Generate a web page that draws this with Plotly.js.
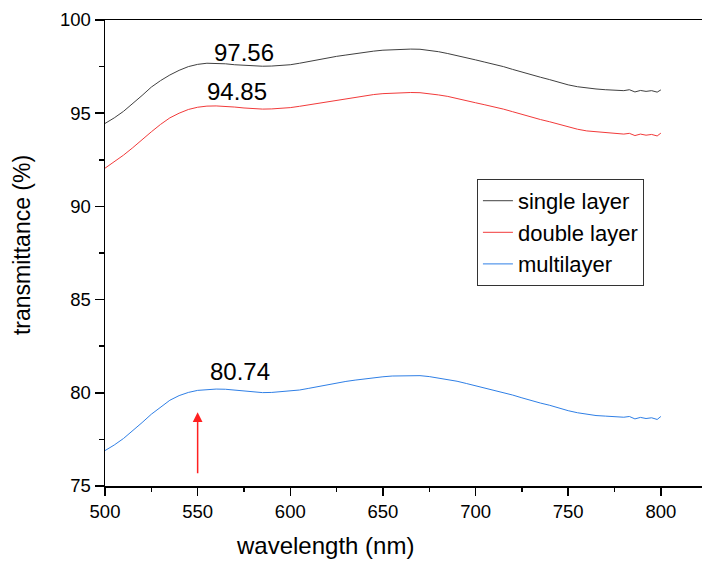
<!DOCTYPE html>
<html>
<head>
<meta charset="utf-8">
<script src="https://cdn.plot.ly/plotly-3.0.1.min.js"></script>
<style>html,body{margin:0;padding:0;background:#fff;}#chart{width:702px;height:561px;}</style>
</head>
<body>
<div id="chart"></div>
<script>
const wavelength = [500,505,510,515,520,525,530,535,540,545,550,555,560,565,570,575,580,585,590,595,600,605,610,615,620,625,630,635,640,645,650,655,660,665,670,675,680,685,690,695,700,705,710,715,720,725,730,735,740,745,750,755,760,765,770,775,780,783,786,789,792,795,798,800];

const singleLayer = [94.45,94.75,95.1,95.5,95.95,96.4,96.75,97.05,97.3,97.5,97.62,97.68,97.68,97.65,97.6,97.56,97.53,97.52,97.53,97.55,97.6,97.68,97.78,97.88,97.97,98.05,98.12,98.2,98.27,98.33,98.38,98.41,98.43,98.44,98.43,98.38,98.3,98.2,98.1,97.98,97.86,97.74,97.63,97.5,97.35,97.2,97.06,96.93,96.8,96.65,96.52,96.42,96.35,96.3,96.26,96.24,96.21,96.26,96.14,96.22,96.17,96.21,96.13,96.25];

const doubleLayer = [92.05,92.4,92.75,93.15,93.6,94.0,94.4,94.75,95.0,95.2,95.32,95.38,95.39,95.38,95.33,95.28,95.24,95.22,95.23,95.26,95.3,95.37,95.45,95.55,95.64,95.72,95.8,95.87,95.94,96.0,96.05,96.08,96.1,96.11,96.1,96.05,95.98,95.9,95.8,95.68,95.56,95.45,95.35,95.22,95.08,94.93,94.79,94.66,94.54,94.4,94.26,94.14,94.05,94.0,93.96,93.92,93.88,93.92,93.8,93.88,93.82,93.86,93.78,93.93];

const multiLayer = [76.9,77.2,77.55,77.95,78.4,78.85,79.25,79.6,79.85,80.02,80.13,80.18,80.2,80.19,80.14,80.08,80.03,80.01,80.02,80.05,80.09,80.15,80.24,80.34,80.44,80.53,80.61,80.68,80.75,80.81,80.86,80.9,80.92,80.93,80.92,80.87,80.8,80.71,80.62,80.5,80.38,80.27,80.16,80.03,79.88,79.73,79.58,79.45,79.33,79.18,79.04,78.93,78.84,78.78,78.75,78.72,78.69,78.73,78.6,78.68,78.62,78.66,78.57,78.73];

const seriesNames = ["single layer","double layer","multilayer"];
const seriesColors = ["#404040","#f23a3a","#2f7fe6"];
const peakLabels = ["97.56","94.85","80.74"];
const peakLabelX = [575, 571, 573];
const peakLabelY = [98.28, 96.16, 81.13];
const arrowX = 550, arrowTipY = 78.95, arrowTailY = 75.6;

const font = "Liberation Sans, Arial, sans-serif";
const ys = [singleLayer, doubleLayer, multiLayer];
const traces = ys.map((y, i) => ({
  x: wavelength, y: y, type: "scatter", mode: "lines",
  name: seriesNames[i], line: {color: seriesColors[i], width: 1}
}));

const annotations = peakLabels.map((t, i) => ({
  x: peakLabelX[i], y: peakLabelY[i], xref: "x", yref: "y", text: t,
  showarrow: false, font: {family: font, size: 24, color: "#000"}
}));
annotations.push({
  x: arrowX, y: arrowTipY, ax: arrowX, ay: arrowTailY, axref: "x", ayref: "y",
  xref: "x", yref: "y", text: "", showarrow: true, arrowhead: 2, arrowsize: 1.3,
  arrowwidth: 1.5, arrowcolor: "#ff2020"
});
annotations.push({
  x: 0.3685, y: -0.127, xref: "paper", yref: "paper", text: "wavelength (nm)",
  showarrow: false, xanchor: "center", yanchor: "middle",
  font: {family: font, size: 24, color: "#000"}
});
annotations.push({
  x: -0.139, y: 0.517, xref: "paper", yref: "paper", text: "transmittance (%)",
  showarrow: false, xanchor: "center", yanchor: "middle", textangle: -90,
  font: {family: font, size: 23, color: "#000"}
});

const layout = {
  width: 702, height: 561,
  margin: {l: 105, r: 0, t: 20, b: 75},
  paper_bgcolor: "#fff", plot_bgcolor: "#fff",
  font: {family: font, size: 18, color: "#000"},
  showlegend: true,
  legend: {x: 0.623, y: 0.659, xanchor: "left", yanchor: "top",
    bordercolor: "#333", borderwidth: 1, bgcolor: "#fff",
    font: {family: font, size: 22, color: "#000"}, tracegroupgap: 0},
  xaxis: {range: [500, 822.2], tickvals: [500,550,600,650,700,750,800],
    ticks: "outside", ticklen: 8, tickwidth: 1.5, tickcolor: "#000",
    showline: true, linecolor: "#000", linewidth: 1.5, mirror: true,
    showgrid: false, zeroline: false,
    minor: {tickvals: [525,575,625,675,725,775], ticks: "outside", ticklen: 4, tickwidth: 1.5, tickcolor: "#000", showgrid: false},
    tickfont: {family: font, size: 18.5, color: "#000"}},
  yaxis: {range: [75, 100], tickvals: [75,80,85,90,95,100],
    ticks: "outside", ticklen: 9, tickwidth: 1.5, tickcolor: "#000",
    showline: true, linecolor: "#000", linewidth: 1.5, mirror: false,
    showgrid: false, zeroline: false,
    minor: {tickvals: [77.5,82.5,87.5,92.5,97.5], ticks: "outside", ticklen: 5, tickwidth: 1.5, tickcolor: "#000", showgrid: false},
    tickfont: {family: font, size: 18.5, color: "#000"}},
  annotations: annotations
};

Plotly.newPlot("chart", traces, layout, {displayModeBar: false, staticPlot: true});
</script>
</body>
</html>
